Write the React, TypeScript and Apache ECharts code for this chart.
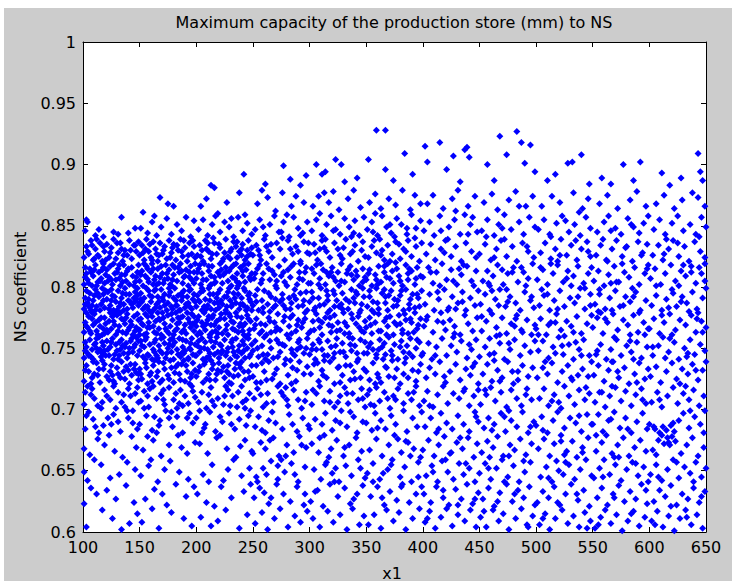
import { useEffect, useRef } from "react";
import * as echarts from "echarts";

// Scatter points, one array per 50-wide band of x1.
// Each array is a flat list of pairs: x1, NS coefficient, x1, NS coefficient, ...
const band100 = [
  103, .604, 126, .611, 141, .607, 117, .618, 134, .602, 148, .615,
  101, .623, 112, .631, 129, .627, 138, .638, 107, .636, 145, .624, 121, .634,
  104, .642, 116, .655, 132, .647, 146, .651, 110, .659, 124, .644, 139, .657, 101, .649,
  106, .663, 119, .671, 128, .666, 143, .678, 113, .676, 135, .661, 101, .668, 147, .669, 123, .679,
  102, .684, 109, .692, 118, .687, 127, .696, 133, .682, 144, .689, 105, .698, 114, .681, 122, .693, 139, .699, 148, .684, 131, .690,
  101, .704, 107, .712, 113, .703, 119, .716, 124, .708, 131, .714, 137, .702, 142, .711, 149, .706, 104, .719, 110, .709, 116, .701,
  127, .719, 134, .706, 140, .717, 146, .713, 121, .711, 102, .714,
  101, .723, 105, .731, 108, .726, 112, .738, 115, .722, 118, .733, 121, .727, 125, .736, 128, .721, 131, .729, 134, .739, 137, .725,
  140, .732, 143, .728, 146, .737, 149, .724, 103, .736, 110, .729, 117, .740, 123, .724, 130, .734, 136, .731, 141, .721, 147, .730,
  114, .733, 126, .728,
  101, .742, 103, .751, 104, .746, 106, .757, 108, .749, 109, .741, 111, .754, 113, .747, 114, .759, 116, .743, 118, .752, 119, .748,
  121, .756, 123, .744, 124, .751, 126, .758, 128, .745, 129, .753, 131, .741, 133, .749, 134, .757, 136, .746, 138, .754, 139, .742,
  141, .750, 143, .758, 144, .747, 146, .753, 148, .744, 149, .756, 102, .755, 107, .743, 112, .750, 117, .755, 122, .749, 127, .741,
  132, .755, 137, .751,
  101, .763, 102, .771, 104, .767, 105, .776, 107, .762, 109, .769, 110, .778, 112, .764, 114, .773, 115, .768, 117, .761, 119, .775,
  120, .770, 122, .763, 124, .779, 125, .766, 127, .772, 129, .761, 130, .777, 132, .768, 134, .774, 135, .763, 137, .770, 139, .778,
  140, .765, 142, .772, 144, .761, 145, .776, 147, .767, 149, .773, 103, .779, 108, .774, 113, .761, 118, .766, 123, .772, 128, .769,
  133, .779, 138, .762, 143, .769, 148, .778,
  101, .782, 102, .791, 104, .787, 106, .795, 107, .781, 109, .789, 111, .798, 112, .784, 114, .792, 116, .786, 117, .799, 119, .783,
  121, .790, 122, .796, 124, .785, 126, .793, 127, .781, 129, .788, 131, .797, 132, .784, 134, .791, 136, .786, 137, .799, 139, .782,
  141, .794, 142, .788, 144, .783, 146, .796, 147, .790, 149, .785, 103, .797, 105, .784, 110, .793, 115, .781, 120, .797, 125, .789,
  130, .781, 135, .795, 140, .789, 145, .791, 148, .799, 118, .794,
  101, .802, 103, .811, 104, .806, 106, .815, 108, .801, 109, .809, 111, .818, 113, .804, 114, .812, 116, .807, 118, .819, 119, .803,
  121, .814, 123, .808, 124, .817, 126, .802, 128, .811, 129, .806, 131, .815, 133, .801, 134, .810, 136, .818, 138, .805, 139, .813,
  141, .802, 143, .816, 144, .809, 146, .804, 148, .812, 149, .818, 102, .816, 107, .812, 112, .801, 117, .814, 122, .805, 127, .819,
  132, .807, 137, .810,
  101, .824, 103, .833, 105, .827, 107, .838, 109, .822, 111, .831, 113, .826, 115, .836, 117, .821, 119, .829, 121, .835, 123, .824,
  125, .832, 127, .839, 129, .823, 131, .828, 133, .836, 135, .821, 137, .830, 139, .826, 141, .838, 143, .823, 145, .834, 147, .829,
  149, .837, 112, .839, 120, .822, 134, .831,
  102, .846, 104, .853, 111, .842, 114, .847, 118, .841, 127, .845, 131, .843, 140, .844, 146, .848, 103, .855, 134, .857,
  103, .695, 117, .706, 125, .688, 136, .712, 144, .699, 108, .717, 129, .701, 140, .693, 111, .686, 148, .718,
  102, .732, 107, .721, 113, .728, 119, .737, 124, .731, 133, .726, 138, .735, 145, .733, 109, .739, 127, .723, 142, .737, 149, .729,
  102, .748, 105, .744, 110, .753, 115, .749, 120, .744, 125, .755, 130, .748, 135, .752, 140, .746, 145, .751, 147, .759, 112, .758,
  117, .746, 132, .744, 142, .756,
  103, .768, 106, .764, 111, .771, 116, .775, 121, .765, 126, .776, 131, .764, 136, .773, 141, .767, 146, .764, 108, .779, 119, .762,
  128, .778, 138, .775, 149, .765,
  102, .786, 105, .790, 108, .785, 113, .795, 118, .789, 123, .782, 128, .792, 133, .787, 138, .794, 143, .786, 148, .793, 111, .781,
  125, .798, 136, .781, 146, .788,
  102, .808, 105, .803, 110, .814, 115, .805, 120, .810, 125, .806, 130, .812, 135, .804, 140, .815, 145, .801, 147, .808, 118, .816,
  132, .818,
  104, .829, 108, .834, 114, .825, 118, .833, 124, .828, 130, .836, 136, .826, 142, .830, 146, .834, 110, .823,
];

const band150 = [
  152, .608, 167, .603, 178, .616, 189, .611, 161, .619, 196, .605,
  155, .627, 163, .635, 174, .622, 182, .639, 191, .629, 170, .631, 198, .637,
  151, .646, 158, .654, 166, .641, 177, .658, 185, .649, 193, .643, 172, .651, 160, .659,
  153, .667, 162, .675, 169, .662, 176, .671, 184, .679, 192, .664, 157, .678, 187, .669, 199, .673,
  150, .688, 156, .695, 161, .683, 168, .691, 173, .699, 179, .686, 183, .694, 188, .681, 194, .697, 197, .689, 165, .681, 176, .693,
  151, .707, 154, .715, 158, .702, 162, .719, 165, .709, 169, .713, 172, .704, 176, .718, 180, .708, 183, .701, 186, .716, 190, .711,
  193, .705, 196, .719, 199, .710, 157, .711, 171, .716, 188, .703,
  150, .733, 152, .725, 155, .738, 157, .721, 160, .730, 162, .736, 165, .727, 167, .739, 170, .724, 172, .733, 175, .728, 177, .740,
  180, .722, 182, .735, 185, .729, 187, .737, 190, .723, 192, .731, 195, .726, 197, .738, 199, .732, 159, .728, 168, .722, 178, .734,
  189, .740, 194, .721,
  150, .748, 151, .756, 153, .743, 154, .751, 156, .759, 157, .745, 159, .753, 161, .741, 162, .749, 164, .757, 165, .744, 167, .752,
  169, .758, 170, .746, 172, .754, 173, .742, 175, .750, 177, .757, 178, .747, 180, .741, 181, .755, 183, .749, 185, .758, 186, .743,
  188, .751, 189, .746, 191, .756, 193, .742, 194, .750, 196, .758, 197, .745, 199, .753, 155, .741, 163, .747, 171, .759, 179, .752,
  187, .746, 195, .749,
  150, .765, 151, .774, 153, .769, 155, .778, 156, .762, 158, .771, 159, .767, 161, .776, 163, .763, 164, .772, 166, .779, 167, .766,
  169, .761, 171, .775, 172, .770, 174, .764, 175, .777, 177, .768, 179, .773, 180, .761, 182, .779, 183, .766, 185, .771, 187, .763,
  188, .776, 190, .769, 191, .762, 193, .774, 195, .767, 196, .778, 198, .764, 199, .771, 154, .761, 160, .779, 168, .773, 176, .762,
  184, .775, 192, .779, 197, .770, 157, .767,
  150, .787, 151, .795, 153, .782, 154, .791, 156, .799, 157, .784, 159, .793, 160, .788, 162, .781, 163, .797, 165, .786, 166, .792,
  168, .783, 169, .798, 171, .789, 172, .794, 174, .781, 175, .787, 177, .796, 178, .784, 180, .791, 181, .799, 183, .785, 184, .793,
  186, .781, 187, .789, 189, .797, 190, .783, 192, .792, 193, .787, 195, .798, 196, .782, 198, .794, 199, .788, 152, .788, 158, .797,
  164, .783, 170, .791, 176, .799, 182, .785, 188, .792, 194, .784,
  150, .805, 152, .813, 153, .801, 155, .809, 156, .817, 158, .804, 160, .812, 161, .819, 163, .806, 165, .802, 166, .815, 168, .808,
  170, .811, 171, .803, 173, .818, 175, .807, 176, .814, 178, .801, 180, .810, 181, .816, 183, .805, 185, .812, 186, .819, 188, .803,
  190, .809, 191, .814, 193, .801, 195, .817, 196, .806, 198, .812, 199, .819, 157, .815, 164, .809, 172, .806, 179, .818, 187, .813,
  194, .808, 162, .802,
  150, .826, 152, .834, 154, .822, 156, .839, 158, .829, 160, .824, 162, .837, 164, .831, 166, .821, 168, .836, 170, .827, 172, .833,
  174, .823, 176, .838, 178, .828, 180, .835, 182, .822, 184, .830, 186, .839, 188, .825, 190, .832, 192, .821, 194, .836, 196, .827,
  198, .833, 155, .831, 167, .826, 179, .832, 189, .838, 199, .824,
  151, .848, 153, .861, 157, .844, 161, .853, 165, .842, 169, .849, 174, .856, 178, .843, 183, .851, 187, .846, 191, .857, 195, .841,
  198, .854, 163, .858,
  168, .873, 175, .868, 180, .866,
  154, .701, 163, .694, 171, .708, 178, .698, 185, .705, 192, .693, 197, .715, 159, .717, 182, .713, 167, .687,
  151, .729, 156, .734, 161, .723, 166, .731, 171, .738, 176, .725, 181, .730, 186, .724, 191, .736, 196, .729, 163, .740, 184, .737,
  152, .752, 158, .744, 163, .755, 168, .748, 174, .746, 179, .758, 184, .745, 190, .748, 195, .754, 199, .744, 155, .757, 166, .742,
  176, .753, 188, .757, 193, .741,
  152, .770, 157, .776, 162, .768, 167, .774, 173, .766, 178, .778, 183, .770, 189, .765, 194, .771, 198, .776, 150, .761, 165, .762,
  170, .779, 181, .764, 186, .775,
  151, .790, 155, .784, 161, .792, 167, .788, 172, .785, 176, .793, 182, .789, 187, .795, 191, .786, 197, .790, 158, .781, 164, .798,
  179, .782, 185, .781, 194, .797,
  151, .810, 157, .807, 162, .815, 167, .803, 174, .811, 179, .806, 184, .816, 189, .808, 194, .812, 198, .803, 154, .819, 169, .817,
  177, .802,
  153, .828, 159, .835, 165, .827, 171, .830, 177, .824, 183, .834, 187, .829, 193, .826, 197, .838, 161, .822,
];

const band200 = [
  204, .612, 213, .605, 226, .618, 238, .603, 245, .614, 219, .609,
  201, .631, 209, .624, 222, .637, 231, .628, 242, .633, 216, .621, 248, .639,
  206, .647, 214, .655, 224, .642, 233, .659, 240, .646, 247, .652, 211, .641, 228, .651,
  203, .672, 210, .664, 218, .677, 227, .668, 235, .661, 243, .675, 249, .666, 221, .679, 239, .670,
  200, .693, 207, .685, 212, .698, 217, .682, 223, .690, 229, .697, 234, .684, 238, .692, 244, .687, 248, .699, 205, .681, 231, .688,
  202, .706, 205, .714, 209, .701, 213, .718, 219, .709, 224, .704, 228, .716, 232, .711, 236, .702, 240, .719, 244, .708, 247, .713,
  211, .712, 216, .703, 226, .719, 243, .701,
  200, .727, 203, .735, 206, .722, 208, .739, 211, .729, 214, .733, 217, .724, 220, .738, 222, .731, 225, .726, 228, .736, 231, .721,
  234, .733, 237, .728, 240, .739, 243, .724, 246, .731, 249, .736, 209, .725, 219, .732, 229, .729, 239, .734, 213, .740, 235, .738,
  200, .744, 201, .752, 203, .747, 205, .758, 206, .741, 208, .755, 210, .749, 211, .743, 213, .756, 215, .751, 216, .745, 218, .759,
  220, .742, 221, .753, 223, .748, 225, .757, 226, .744, 228, .750, 230, .741, 231, .755, 233, .747, 235, .758, 236, .743, 238, .752,
  240, .746, 241, .756, 243, .742, 245, .750, 246, .758, 248, .745, 249, .753, 204, .750, 212, .759, 222, .746, 232, .751, 242, .748,
  200, .768, 202, .776, 203, .763, 205, .771, 207, .779, 208, .765, 210, .773, 212, .761, 213, .769, 215, .777, 217, .764, 218, .772,
  220, .767, 222, .778, 223, .762, 225, .774, 227, .769, 228, .761, 230, .776, 232, .766, 233, .771, 235, .779, 237, .763, 238, .768,
  240, .775, 242, .761, 243, .770, 245, .777, 247, .765, 248, .772, 201, .761, 209, .770, 219, .762, 226, .779, 234, .765, 241, .768,
  246, .761, 214, .775,
  200, .784, 201, .793, 203, .788, 205, .781, 206, .797, 208, .790, 210, .785, 211, .799, 213, .782, 215, .794, 216, .787, 218, .791,
  220, .783, 221, .798, 223, .786, 225, .792, 226, .781, 228, .796, 230, .789, 231, .784, 233, .795, 235, .787, 236, .799, 238, .782,
  240, .791, 241, .786, 243, .797, 245, .783, 246, .793, 248, .788, 249, .781, 204, .796, 212, .789, 219, .795, 227, .784, 234, .791,
  242, .799, 247, .795, 209, .782, 239, .786,
  200, .807, 202, .815, 204, .802, 205, .811, 207, .819, 209, .806, 211, .813, 212, .801, 214, .817, 216, .808, 217, .804, 219, .812,
  221, .819, 223, .803, 224, .810, 226, .816, 228, .805, 229, .813, 231, .801, 233, .818, 234, .807, 236, .811, 238, .803, 239, .816,
  241, .809, 243, .804, 244, .814, 246, .819, 248, .806, 249, .811, 203, .818, 213, .809, 222, .814, 232, .808, 242, .818, 237, .801,
  201, .826, 203, .834, 206, .821, 208, .838, 211, .829, 213, .823, 216, .836, 218, .827, 221, .832, 223, .821, 226, .839, 228, .825,
  231, .831, 233, .837, 236, .824, 238, .829, 241, .835, 243, .822, 246, .838, 248, .827, 205, .830, 215, .840, 225, .828, 235, .833,
  245, .830, 210, .836, 230, .823, 240, .826,
  202, .847, 206, .855, 210, .842, 214, .851, 217, .858, 221, .845, 225, .853, 229, .849, 233, .841, 237, .857, 241, .846, 245, .852,
  249, .843, 219, .860, 231, .856, 243, .859,
  204, .866, 209, .872, 213, .883, 216, .881, 227, .869, 238, .877, 242, .892,
  203, .699, 214, .707, 221, .694, 230, .703, 237, .714, 246, .695, 208, .688, 225, .711, 241, .706,
  202, .731, 207, .737, 212, .724, 218, .729, 224, .735, 229, .722, 233, .727, 238, .737, 242, .731, 247, .726, 215, .737, 227, .731,
  202, .756, 207, .750, 212, .746, 217, .755, 222, .752, 227, .747, 232, .757, 237, .748, 242, .753, 247, .743, 209, .742, 219, .747,
  234, .744, 244, .759,
  201, .773, 206, .768, 211, .776, 216, .769, 221, .774, 226, .765, 231, .772, 236, .776, 241, .764, 246, .774, 204, .762, 214, .763,
  229, .778, 239, .770,
  202, .789, 207, .784, 212, .794, 217, .781, 222, .789, 227, .792, 232, .786, 237, .794, 242, .785, 247, .790, 205, .799, 219, .787,
  229, .799, 244, .781,
  201, .812, 206, .806, 211, .817, 216, .803, 221, .809, 226, .812, 231, .816, 236, .804, 241, .813, 247, .808, 213, .802, 235, .819,
  204, .825, 209, .831, 214, .827, 220, .835, 224, .823, 230, .829, 236, .837, 240, .831, 245, .825, 249, .832,
];

const band250 = [
  252, .607, 258, .616, 263, .602, 269, .611, 274, .619, 281, .604, 287, .613, 292, .608, 298, .617,
  251, .628, 256, .636, 264, .623, 271, .639, 277, .631, 283, .625, 289, .637, 295, .622, 260, .632,
  253, .645, 259, .652, 266, .658, 272, .643, 278, .649, 284, .656, 290, .641, 296, .653, 262, .647, 275, .659,
  250, .664, 257, .673, 261, .668, 268, .677, 273, .662, 280, .671, 286, .665, 291, .678, 297, .669, 265, .675,
  252, .686, 255, .694, 261, .681, 267, .698, 270, .689, 276, .684, 282, .696, 285, .688, 289, .682, 294, .693, 299, .687, 264, .691,
  251, .709, 254, .717, 259, .702, 263, .713, 268, .706, 272, .719, 277, .711, 281, .703, 286, .716, 290, .708, 293, .701, 297, .714,
  257, .712, 279, .718,
  250, .727, 253, .736, 257, .722, 260, .731, 264, .739, 267, .725, 271, .733, 274, .721, 278, .737, 281, .728, 285, .734, 288, .723,
  291, .739, 295, .729, 298, .735, 262, .724, 283, .740,
  250, .748, 252, .756, 255, .743, 258, .752, 260, .759, 263, .745, 266, .750, 268, .742, 271, .757, 274, .747, 276, .753, 279, .741,
  282, .758, 284, .749, 287, .744, 290, .755, 292, .751, 295, .746, 298, .758, 261, .741, 273, .754, 289, .749,
  251, .766, 253, .774, 256, .762, 259, .779, 261, .769, 264, .775, 266, .763, 269, .771, 272, .778, 274, .765, 277, .772, 280, .761,
  282, .768, 285, .777, 288, .764, 290, .773, 293, .767, 296, .779, 299, .762, 257, .770, 270, .764, 283, .775, 294, .771, 262, .761,
  250, .785, 252, .793, 255, .781, 258, .789, 260, .797, 263, .786, 266, .792, 268, .783, 271, .799, 274, .788, 276, .794, 279, .782,
  282, .791, 284, .787, 287, .798, 290, .784, 292, .795, 295, .789, 298, .781, 254, .798, 265, .780, 277, .785, 286, .793, 297, .796,
  270, .790,
  251, .807, 254, .815, 257, .803, 259, .811, 262, .819, 265, .806, 267, .813, 270, .801, 273, .817, 275, .809, 278, .804, 281, .814,
  283, .808, 286, .819, 289, .802, 291, .812, 294, .806, 297, .816, 299, .803, 256, .818, 269, .810, 280, .801, 292, .819,
  250, .826, 253, .834, 257, .822, 260, .839, 264, .829, 267, .824, 271, .836, 274, .831, 278, .822, 281, .838, 285, .827, 288, .833,
  292, .821, 295, .837, 298, .828, 262, .833, 276, .840, 290, .829, 255, .830,
  252, .847, 256, .855, 261, .842, 265, .851, 269, .858, 273, .845, 277, .853, 282, .841, 286, .857, 290, .848, 294, .844, 298, .853,
  259, .849, 280, .859,
  254, .868, 263, .873, 270, .862, 276, .877, 284, .866, 288, .874, 295, .869, 258, .879,
  261, .884, 277, .899, 283, .888, 292, .883, 297, .891,
  254, .641, 266, .628, 279, .662, 287, .647, 293, .671, 258, .683, 272, .654, 296, .631,
  253, .722, 262, .705, 269, .729, 275, .714, 284, .721, 289, .732, 296, .707, 258, .738, 280, .708,
  254, .750, 259, .745, 265, .756, 272, .743, 278, .752, 285, .746, 291, .757, 297, .750,
  252, .769, 258, .764, 265, .772, 271, .767, 278, .776, 284, .762, 289, .769, 296, .774,
  253, .788, 259, .783, 264, .795, 270, .785, 276, .790, 283, .782, 288, .790, 294, .785,
  252, .811, 258, .806, 264, .815, 271, .805, 277, .812, 284, .817, 291, .807, 296, .812,
  256, .826, 266, .835, 275, .845, 283, .831, 292, .842, 299, .836,
];

const band300 = [
  303, .611, 309, .604, 316, .617, 321, .608, 327, .614, 333, .602, 338, .619, 344, .606, 348, .613,
  301, .625, 307, .634, 312, .621, 318, .639, 325, .629, 331, .636, 336, .623, 342, .631, 347, .638,
  304, .651, 310, .643, 315, .657, 320, .648, 326, .641, 332, .654, 337, .646, 343, .659, 349, .644, 323, .652,
  302, .672, 308, .665, 313, .679, 319, .668, 324, .675, 330, .662, 335, .671, 341, .677, 346, .666, 317, .661,
  300, .684, 305, .692, 311, .688, 314, .697, 320, .683, 323, .691, 328, .699, 333, .686, 339, .694, 342, .681, 347, .690, 336, .698,
  302, .704, 306, .713, 309, .719, 313, .707, 318, .715, 322, .702, 327, .711, 331, .718, 334, .705, 338, .713, 343, .708, 346, .717,
  349, .702, 325, .706,
  301, .729, 304, .737, 308, .723, 311, .732, 315, .726, 318, .739, 322, .721, 325, .734, 329, .728, 332, .736, 336, .724, 339, .731,
  342, .739, 345, .726, 348, .733, 313, .740, 327, .722,
  300, .745, 303, .753, 305, .741, 308, .757, 311, .749, 313, .744, 316, .756, 319, .751, 321, .742, 324, .758, 327, .747, 329, .754,
  332, .743, 335, .759, 337, .748, 340, .752, 343, .741, 345, .757, 348, .746, 306, .749, 322, .746, 338, .758,
  301, .764, 303, .772, 306, .778, 309, .767, 311, .761, 314, .775, 317, .769, 319, .763, 322, .777, 325, .771, 327, .765, 330, .779,
  333, .768, 335, .762, 338, .774, 341, .770, 343, .776, 346, .764, 349, .772, 308, .773, 320, .768, 331, .762, 344, .779, 316, .779,
  300, .788, 302, .796, 305, .783, 308, .791, 310, .799, 313, .786, 316, .793, 318, .781, 321, .797, 324, .789, 326, .784, 329, .795,
  332, .790, 334, .782, 337, .798, 340, .787, 342, .794, 345, .781, 348, .792, 304, .781, 315, .797, 328, .786, 339, .791, 347, .799,
  322, .784,
  301, .803, 304, .811, 306, .818, 309, .807, 312, .814, 314, .802, 317, .809, 320, .816, 323, .805, 325, .812, 328, .819, 331, .804,
  333, .811, 336, .817, 339, .806, 341, .813, 344, .801, 347, .815, 349, .808, 310, .819, 326, .801, 337, .810, 319, .812,
  300, .827, 304, .835, 307, .822, 311, .838, 315, .829, 318, .824, 322, .836, 325, .831, 329, .823, 332, .839, 336, .827, 340, .834,
  343, .821, 347, .837, 313, .832, 327, .826, 338, .829, 349, .825, 309, .831,
  302, .846, 306, .855, 311, .842, 315, .851, 319, .858, 323, .847, 327, .843, 331, .856, 335, .849, 340, .854, 344, .842, 348, .857,
  309, .860, 337, .841,
  303, .866, 308, .874, 317, .869, 321, .878, 326, .863, 334, .872, 339, .879, 345, .865, 313, .877,
  306, .900, 311, .892, 314, .894, 323, .904, 328, .900, 331, .886, 342, .889,
  305, .633, 314, .655, 322, .641, 331, .669, 339, .627, 345, .652, 309, .677, 327, .689,
  303, .716, 312, .728, 318, .706, 326, .735, 333, .713, 340, .725, 347, .709, 307, .738, 336, .736,
  302, .749, 309, .755, 316, .744, 323, .752, 330, .747, 336, .753, 342, .746, 349, .755,
  304, .765, 311, .771, 318, .775, 324, .764, 331, .771, 337, .778, 344, .767, 348, .763,
  303, .791, 309, .785, 316, .789, 322, .794, 329, .782, 335, .788, 341, .796, 346, .786,
  302, .815, 308, .802, 315, .812, 321, .808, 328, .805, 334, .814, 342, .809, 347, .804,
  305, .828, 314, .839, 321, .846, 330, .832, 339, .844, 346, .830,
];

const band350 = [
  352, .606, 357, .614, 363, .603, 368, .618, 374, .609, 379, .616, 385, .602, 391, .611, 397, .619,
  354, .629, 360, .637, 366, .622, 371, .633, 377, .626, 382, .639, 388, .624, 394, .631, 399, .637,
  351, .648, 356, .656, 362, .643, 369, .651, 373, .659, 380, .645, 384, .653, 390, .641, 396, .657, 365, .648,
  353, .667, 359, .676, 364, .662, 370, .671, 375, .679, 381, .665, 387, .673, 392, .668, 398, .661, 378, .676,
  350, .689, 355, .683, 358, .697, 363, .691, 367, .684, 372, .695, 376, .688, 383, .699, 386, .682, 391, .693, 395, .686, 399, .698,
  351, .712, 354, .704, 359, .718, 362, .707, 366, .714, 371, .701, 374, .711, 378, .717, 383, .705, 387, .713, 390, .708, 394, .719,
  397, .703, 369, .709,
  350, .731, 353, .724, 356, .738, 360, .729, 363, .722, 367, .735, 370, .727, 373, .740, 377, .733, 380, .721, 384, .738, 387, .726,
  391, .732, 394, .723, 398, .737, 358, .721, 375, .726,
  351, .746, 354, .754, 356, .749, 359, .742, 362, .757, 364, .751, 367, .745, 370, .759, 372, .748, 375, .753, 378, .741, 381, .756,
  383, .747, 386, .752, 389, .758, 391, .743, 394, .750, 397, .755, 399, .744, 365, .741, 385, .742, 361, .749,
  350, .767, 353, .775, 355, .762, 358, .771, 361, .778, 363, .764, 366, .772, 369, .768, 371, .776, 374, .761, 377, .769, 379, .777,
  382, .765, 385, .773, 387, .762, 390, .771, 393, .779, 395, .766, 398, .774, 357, .779, 368, .761, 380, .770, 392, .763, 384, .778,
  351, .784, 353, .792, 356, .788, 359, .799, 361, .782, 364, .795, 367, .787, 369, .781, 372, .797, 375, .790, 377, .785, 380, .793,
  383, .781, 385, .798, 388, .786, 391, .794, 393, .783, 396, .791, 399, .797, 355, .781, 366, .798, 378, .789, 389, .790, 397, .784,
  370, .793,
  350, .806, 353, .814, 355, .801, 358, .810, 361, .817, 363, .804, 366, .812, 369, .819, 371, .807, 374, .803, 377, .815, 379, .809,
  382, .801, 385, .818, 387, .806, 390, .813, 393, .802, 395, .816, 398, .809, 360, .802, 376, .820, 388, .815, 368, .808,
  352, .824, 355, .833, 359, .828, 362, .839, 366, .822, 369, .834, 373, .827, 376, .837, 380, .823, 383, .831, 387, .838, 390, .825,
  394, .833, 397, .821, 357, .838, 371, .821, 385, .829, 399, .836, 364, .830,
  351, .847, 355, .853, 360, .842, 364, .858, 368, .849, 372, .844, 377, .856, 381, .851, 386, .843, 390, .859, 394, .848, 398, .854,
  358, .860, 375, .841,
  353, .869, 358, .876, 363, .864, 370, .872, 376, .867, 382, .879, 389, .863, 393, .875, 398, .868,
  352, .904, 359, .928, 367, .928, 367, .896, 384, .909, 374, .887, 391, .892,
  356, .641, 364, .628, 372, .655, 381, .637, 389, .662, 396, .645, 360, .685, 385, .674,
  353, .716, 361, .726, 368, .734, 376, .708, 383, .729, 392, .714, 396, .731, 357, .703,
  352, .751, 359, .745, 366, .754, 373, .744, 380, .751, 388, .746, 395, .757,
  354, .769, 361, .764, 368, .775, 375, .771, 382, .762, 389, .774, 396, .769,
  353, .797, 360, .787, 367, .792, 374, .784, 381, .797, 388, .782, 395, .794,
  352, .811, 359, .806, 366, .817, 373, .813, 380, .805, 387, .811, 394, .807,
  356, .845, 363, .826, 371, .851, 379, .835, 386, .848, 393, .840,
];

const band400 = [
  402, .608, 406, .617, 411, .603, 416, .612, 421, .619, 426, .605, 431, .614, 437, .609, 442, .618, 447, .604,
  401, .631, 407, .624, 412, .637, 418, .628, 423, .622, 429, .635, 434, .627, 439, .639, 444, .623, 449, .632,
  403, .646, 408, .654, 413, .641, 417, .658, 422, .649, 427, .643, 432, .656, 436, .647, 441, .652, 446, .641, 420, .659,
  400, .667, 405, .675, 410, .662, 414, .671, 419, .678, 424, .664, 430, .673, 435, .668, 440, .677, 445, .661, 448, .672,
  402, .686, 407, .693, 412, .681, 416, .697, 421, .689, 426, .684, 431, .695, 436, .688, 441, .682, 446, .698, 449, .690,
  401, .707, 404, .715, 409, .702, 413, .712, 418, .719, 422, .705, 427, .713, 432, .709, 437, .717, 441, .703, 445, .711, 449, .716,
  403, .726, 406, .734, 411, .729, 415, .739, 420, .722, 424, .731, 429, .737, 433, .724, 438, .733, 442, .728, 446, .738, 449, .721,
  400, .746, 405, .754, 408, .741, 412, .751, 417, .758, 421, .744, 425, .752, 430, .747, 434, .756, 439, .742, 443, .749, 447, .757,
  427, .759,
  401, .768, 404, .776, 409, .763, 413, .772, 416, .779, 420, .765, 424, .773, 428, .768, 433, .761, 437, .777, 440, .770, 444, .764,
  448, .775, 418, .771,
  402, .786, 406, .794, 410, .781, 414, .790, 419, .798, 423, .783, 426, .792, 431, .787, 435, .796, 438, .781, 442, .791, 446, .785,
  449, .797, 429, .782,
  400, .808, 405, .816, 409, .803, 412, .812, 417, .819, 421, .806, 425, .814, 430, .802, 434, .810, 439, .817, 443, .805, 447, .813,
  415, .801, 436, .818,
  403, .827, 407, .835, 411, .822, 416, .831, 420, .838, 425, .825, 429, .833, 434, .821, 438, .836, 443, .829, 447, .824, 422, .839,
  401, .846, 406, .853, 410, .842, 415, .858, 423, .849, 428, .855, 433, .843, 437, .859, 442, .851, 448, .845,
  404, .868, 409, .875, 418, .864, 426, .872, 431, .879, 440, .866, 446, .874,
  402, .915, 404, .902, 415, .918, 421, .896, 427, .907, 437, .912, 439, .914, 441, .906, 433, .886,
  404, .611, 418, .634, 431, .622, 446, .627, 409, .649, 425, .665, 438, .656, 414, .684, 433, .677, 447, .694,
  406, .703, 419, .727, 436, .715, 444, .735, 411, .744, 428, .762, 441, .753, 403, .773, 422, .781, 435, .788,
  413, .796, 427, .805, 445, .801, 407, .812, 419, .828, 432, .815, 440, .843, 416, .846, 429, .862, 444, .857,
];

const band450 = [
  451, .612, 456, .604, 462, .618, 467, .609, 471, .615, 476, .602, 482, .611, 487, .619, 492, .606, 497, .613,
  453, .627, 458, .636, 463, .621, 468, .632, 474, .639, 479, .625, 484, .634, 489, .628, 494, .637, 499, .622,
  450, .648, 455, .656, 460, .643, 465, .652, 470, .659, 475, .645, 480, .654, 485, .641, 490, .649, 495, .657, 472, .641,
  452, .665, 457, .674, 462, .669, 466, .678, 471, .662, 477, .671, 481, .667, 486, .676, 491, .663, 496, .672, 459, .661,
  454, .685, 458, .693, 463, .688, 469, .697, 473, .682, 478, .691, 483, .686, 488, .698, 493, .681, 498, .690, 476, .699,
  451, .704, 456, .712, 460, .718, 464, .707, 469, .714, 474, .702, 478, .716, 483, .709, 487, .703, 492, .717, 496, .708, 480, .721,
  453, .729, 457, .737, 461, .723, 466, .732, 470, .726, 475, .739, 479, .731, 484, .724, 488, .736, 493, .727, 497, .734, 463, .740,
  450, .743, 455, .751, 459, .758, 463, .746, 468, .754, 472, .741, 477, .749, 481, .757, 486, .744, 490, .752, 495, .747, 499, .756,
  465, .760,
  452, .764, 456, .772, 461, .778, 465, .767, 470, .775, 474, .762, 478, .770, 483, .777, 487, .765, 492, .773, 496, .761, 499, .769,
  468, .761, 481, .768,
  451, .786, 455, .794, 459, .781, 464, .790, 468, .798, 473, .784, 477, .792, 482, .787, 486, .781, 490, .796, 495, .789, 498, .783,
  461, .797, 475, .788,
  453, .805, 457, .813, 462, .809, 466, .818, 471, .802, 475, .811, 480, .816, 484, .804, 489, .812, 493, .807, 497, .819, 459, .801,
  470, .814, 491, .801,
  450, .827, 455, .835, 460, .822, 465, .831, 469, .838, 474, .825, 479, .833, 483, .821, 488, .836, 493, .829, 498, .824, 472, .839,
  452, .846, 457, .855, 463, .842, 467, .851, 472, .859, 478, .847, 485, .853, 489, .843, 494, .857, 499, .849,
  454, .869, 461, .876, 466, .863, 476, .871, 482, .878, 491, .866, 497, .874,
  457, .900, 468, .923, 474, .908, 483, .927, 487, .918, 490, .901, 495, .916, 499, .894, 463, .887,
  454, .617, 466, .625, 481, .631, 493, .604, 458, .652, 476, .662, 489, .658, 461, .683, 472, .694, 495, .686,
  455, .716, 468, .723, 484, .731, 491, .712, 459, .745, 476, .754, 488, .763, 452, .776, 467, .785, 482, .774,
  496, .792, 458, .803, 474, .798, 487, .816, 463, .824, 479, .812, 492, .833, 456, .841, 470, .848, 485, .866,
];

const band500 = [
  503, .606, 508, .615, 512, .602, 517, .611, 523, .618, 528, .607, 533, .613, 538, .604, 543, .616, 548, .609,
  501, .624, 506, .633, 511, .628, 516, .637, 521, .622, 526, .631, 531, .639, 537, .626, 542, .634, 547, .621,
  504, .645, 509, .653, 514, .641, 518, .658, 524, .647, 529, .655, 534, .643, 539, .651, 544, .659, 549, .646, 520, .650,
  502, .668, 507, .676, 512, .662, 516, .672, 522, .679, 527, .666, 532, .674, 536, .661, 541, .669, 546, .677, 525, .663,
  500, .687, 505, .694, 510, .681, 515, .691, 519, .698, 525, .685, 530, .693, 535, .689, 540, .682, 545, .696, 549, .688,
  503, .709, 507, .717, 511, .703, 516, .712, 520, .706, 525, .719, 529, .711, 534, .704, 538, .716, 543, .708, 547, .713, 522, .701,
  501, .726, 506, .734, 510, .729, 514, .738, 519, .722, 523, .731, 528, .736, 532, .724, 537, .728, 541, .733, 546, .727, 549, .739,
  502, .748, 506, .756, 511, .742, 515, .751, 520, .759, 524, .745, 529, .753, 533, .741, 538, .749, 542, .757, 547, .744, 517, .746,
  535, .755,
  500, .766, 504, .774, 509, .761, 513, .771, 518, .778, 522, .765, 527, .772, 531, .768, 536, .776, 540, .762, 545, .770, 549, .777,
  525, .760, 511, .769,
  503, .785, 507, .793, 512, .781, 516, .789, 521, .797, 525, .784, 530, .791, 534, .787, 539, .799, 543, .782, 548, .794, 519, .782,
  537, .792, 505, .798,
  501, .806, 506, .814, 510, .802, 515, .811, 519, .818, 524, .804, 528, .813, 533, .809, 537, .817, 542, .803, 546, .811, 513, .819,
  531, .801, 549, .816,
  504, .828, 508, .836, 513, .823, 517, .831, 522, .839, 527, .826, 531, .834, 536, .822, 540, .831, 545, .837, 548, .825, 519, .821,
  502, .847, 507, .855, 512, .843, 518, .852, 523, .858, 529, .845, 534, .851, 539, .842, 544, .857, 548, .848,
  505, .866, 514, .874, 521, .869, 533, .877, 541, .864, 546, .872,
  528, .901, 532, .902, 540, .908, 510, .887, 517, .892, 547, .884,
  506, .611, 519, .624, 536, .631, 545, .603, 511, .644, 526, .657, 541, .665, 506, .683, 522, .674, 538, .695,
  514, .707, 531, .726, 544, .718, 508, .739, 523, .752, 540, .744, 502, .761, 517, .771, 533, .763, 548, .785,
  510, .794, 527, .807, 543, .799, 504, .816, 521, .826, 535, .838, 546, .829, 513, .841, 526, .854, 538, .861,
];

const band550 = [
  552, .603, 557, .612, 561, .618, 566, .607, 571, .614, 576, .601, 581, .609, 586, .617, 591, .605, 596, .612,
  554, .628, 558, .636, 563, .622, 568, .631, 573, .638, 578, .625, 583, .633, 588, .627, 593, .639, 598, .623,
  551, .644, 556, .652, 560, .659, 565, .647, 570, .655, 575, .642, 580, .651, 585, .657, 590, .646, 595, .653, 599, .641,
  553, .666, 558, .673, 562, .679, 567, .664, 572, .671, 577, .677, 582, .662, 587, .669, 592, .675, 597, .666, 569, .661,
  550, .688, 555, .696, 559, .682, 564, .691, 569, .698, 574, .685, 579, .693, 584, .681, 589, .690, 594, .697, 598, .684,
  552, .706, 556, .714, 561, .702, 565, .711, 570, .718, 575, .707, 579, .715, 584, .703, 588, .712, 593, .717, 597, .705, 567, .719,
  551, .728, 555, .736, 560, .723, 564, .732, 568, .739, 573, .726, 578, .734, 582, .721, 587, .729, 591, .738, 596, .725, 599, .733,
  553, .745, 557, .753, 562, .741, 566, .749, 571, .757, 575, .744, 580, .752, 584, .747, 589, .755, 593, .742, 598, .751, 569, .759,
  586, .741,
  550, .767, 554, .775, 559, .762, 563, .771, 568, .778, 572, .765, 577, .773, 581, .769, 586, .777, 590, .763, 595, .771, 599, .766,
  557, .779, 583, .761,
  552, .786, 556, .794, 561, .782, 565, .791, 570, .797, 574, .784, 579, .792, 583, .788, 588, .796, 592, .781, 597, .789, 567, .781,
  585, .799, 555, .780,
  551, .805, 555, .813, 560, .801, 564, .810, 569, .817, 573, .804, 578, .812, 582, .808, 587, .816, 591, .802, 596, .811, 599, .818,
  566, .803, 576, .819,
  553, .826, 557, .834, 562, .822, 567, .831, 571, .838, 576, .825, 580, .833, 585, .821, 590, .837, 594, .828, 598, .835, 559, .839,
  554, .845, 560, .853, 564, .858, 570, .848, 575, .843, 581, .856, 586, .849, 591, .844, 595, .852, 599, .858,
  556, .868, 563, .875, 572, .864, 583, .871, 589, .878, 597, .866,
  577, .900, 592, .902, 558, .889, 566, .884, 586, .887,
  555, .606, 569, .628, 584, .615, 597, .634, 559, .645, 573, .661, 588, .656, 553, .679, 566, .692, 581, .684,
  594, .708, 558, .714, 572, .731, 589, .722, 554, .748, 567, .739, 583, .756, 596, .761, 561, .774, 577, .785,
  591, .779, 556, .798, 571, .804, 586, .792, 598, .815, 563, .821, 579, .832, 593, .826, 566, .846, 584, .851,
];

const band600 = [
  602, .609, 607, .617, 612, .604, 617, .613, 622, .601, 627, .611, 632, .618, 637, .606, 642, .614, 647, .603,
  604, .625, 609, .634, 614, .629, 619, .638, 624, .622, 629, .631, 634, .627, 639, .636, 644, .624, 649, .633,
  601, .647, 606, .655, 611, .642, 616, .651, 621, .659, 626, .644, 631, .653, 636, .648, 641, .657, 646, .645, 650, .652,
  603, .667, 608, .675, 611, .679, 613, .672, 616, .677, 618, .671, 620, .678, 623, .674, 628, .664, 633, .671, 638, .677, 643, .662,
  648, .669, 606, .663,
  600, .688, 605, .684, 609, .681, 612, .686, 615, .683, 619, .687, 622, .682, 626, .691, 630, .697, 635, .685, 640, .694, 645, .688,
  649, .699,
  602, .706, 607, .714, 611, .702, 616, .711, 621, .718, 625, .705, 630, .713, 635, .708, 639, .716, 644, .703, 648, .711, 632, .719,
  601, .727, 606, .735, 610, .722, 615, .731, 620, .738, 624, .725, 629, .733, 634, .729, 638, .737, 643, .724, 647, .732, 650, .739,
  603, .744, 608, .752, 612, .759, 617, .747, 622, .755, 626, .741, 631, .750, 636, .757, 640, .745, 645, .753, 649, .748, 614, .742,
  633, .743,
  600, .766, 604, .774, 609, .762, 613, .771, 618, .778, 623, .765, 627, .773, 632, .769, 637, .777, 641, .763, 646, .772, 650, .767,
  620, .761, 643, .779,
  602, .785, 606, .793, 611, .781, 615, .790, 620, .798, 624, .784, 629, .792, 633, .787, 638, .796, 642, .782, 647, .791, 650, .799,
  617, .783, 635, .780,
  601, .807, 605, .815, 610, .802, 614, .811, 619, .818, 623, .805, 628, .813, 632, .809, 637, .817, 641, .803, 646, .811, 649, .819,
  626, .801, 644, .816,
  603, .826, 608, .834, 612, .822, 617, .831, 621, .838, 626, .825, 631, .833, 635, .821, 640, .837, 645, .829, 649, .824, 615, .839,
  604, .847, 609, .855, 614, .843, 620, .852, 625, .858, 630, .846, 636, .851, 641, .843, 646, .857, 650, .849,
  606, .868, 613, .875, 622, .864, 629, .871, 638, .877, 643, .873, 649, .866,
  643, .909, 645, .894, 647, .887, 618, .883, 628, .889, 611, .893,
  605, .606, 619, .621, 633, .612, 646, .629, 608, .645, 624, .657, 639, .641, 604, .686, 617, .673, 621, .689,
  636, .699, 648, .681, 609, .708, 627, .721, 641, .732, 603, .751, 618, .758, 634, .746, 647, .763, 611, .777,
  628, .788, 642, .774, 606, .801, 621, .795, 637, .812, 649, .805, 613, .827, 630, .818, 644, .841, 625, .836,
];

const bands = [band100, band150, band200, band250, band300, band350, band400, band450, band500, band550, band600];

const xRange = { min: 100, max: 650, step: 50 };
const yRange = { min: 0.6, max: 1, step: 0.05 };

const titleText = "Maximum capacity of the production store (mm) to NS";
const xName = "x1";
const yName = "NS coefficient";

function toPairs(flat: number[]): [number, number][] {
  const out: [number, number][] = [];
  for (let i = 0; i + 1 < flat.length; i += 2) out.push([flat[i], flat[i + 1]]);
  return out;
}

export default function App() {
  const chartRef = useRef<HTMLDivElement>(null);

  useEffect(() => {
    if (!chartRef.current) return;
    const chart = echarts.init(chartRef.current, undefined, { renderer: "svg" });

    const font = "DejaVu Sans";
    const points = bands.flatMap(toPairs);

    const line = { show: true, onZero: false, lineStyle: { color: "#000", width: 1 } };
    const tick = { show: true, inside: true, length: 5, lineStyle: { color: "#000", width: 1 } };
    const label = { color: "#000", fontFamily: font, fontSize: 16, margin: 7 };

    const xCommon = {
      type: "value" as const,
      min: xRange.min,
      max: xRange.max,
      interval: xRange.step,
      axisLine: line,
      axisTick: tick,
      splitLine: { show: false },
    };
    const yCommon = {
      type: "value" as const,
      min: yRange.min,
      max: yRange.max,
      interval: yRange.step,
      axisLine: line,
      axisTick: tick,
      splitLine: { show: false },
    };

    const textStyle = (text: string) => ({
      text,
      fill: "#000",
      font: `16px "${font}"`,
      align: "center",
      verticalAlign: "middle",
    });

    chart.setOption({
      animation: false,
      backgroundColor: "#cccccc",
      grid: {
        left: 79,
        top: 34,
        width: 623,
        height: 490,
        show: true,
        backgroundColor: "#ffffff",
        borderWidth: 0,
      },
      xAxis: [
        { ...xCommon, position: "bottom", axisLabel: label },
        { ...xCommon, position: "top", axisLabel: { show: false } },
      ],
      yAxis: [
        { ...yCommon, position: "left", axisLabel: label },
        { ...yCommon, position: "right", axisLabel: { show: false } },
      ],
      graphic: [
        { type: "text", x: 390, y: 14, style: textStyle(titleText) },
        { type: "text", x: 388, y: 565, style: textStyle(xName) },
        { type: "text", x: 16, y: 279, rotation: Math.PI / 2, style: textStyle(yName) },
      ],
      series: [
        {
          type: "scatter",
          xAxisIndex: 0,
          yAxisIndex: 0,
          symbol: "diamond",
          symbolSize: 7,
          itemStyle: { color: "#0000ff", opacity: 1 },
          progressive: 0,
          emphasis: { disabled: true },
          data: points,
        },
      ],
    });

    return () => {
      chart.dispose();
    };
  }, []);

  return (
    <div style={{ position: "absolute", left: 0, top: 0, width: 732, height: 581, background: "#ffffff" }}>
      <div
        ref={chartRef}
        style={{ position: "absolute", left: 4, top: 8, width: 728, height: 573 }}
      />
    </div>
  );
}
